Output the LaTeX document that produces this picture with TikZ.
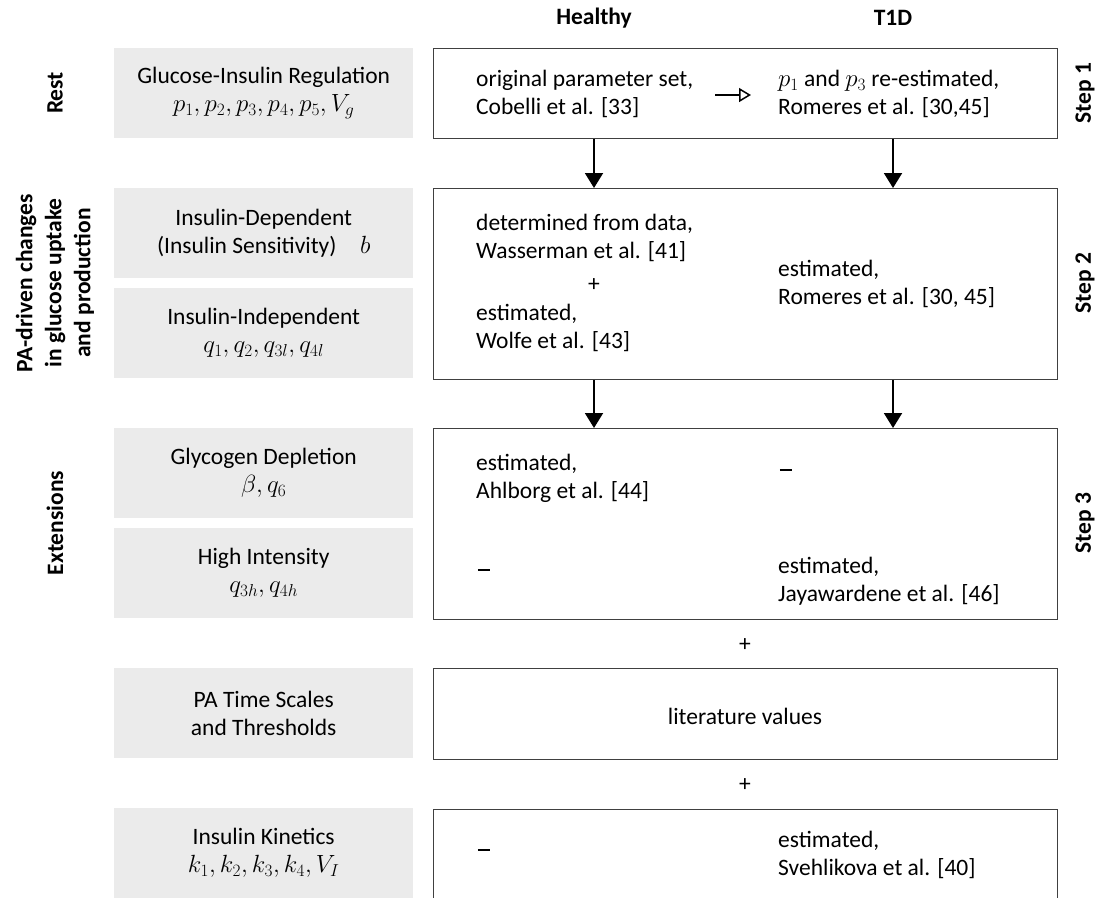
\documentclass[tikz,border=0pt]{standalone}
\usepackage{fontspec}
\setmainfont{Carlito}
\usetikzlibrary{arrows.meta}
\definecolor{cellgray}{RGB}{235,235,235}
\definecolor{framecol}{RGB}{64,64,64}
\newcommand{\dashmark}{\rule[6.5pt]{12.5pt}{1.9pt}}
\begin{document}
\begin{tikzpicture}[x=1pt,y=-1pt,
  every node/.style={inner sep=0pt, font=\fontsize{23.5}{28}\selectfont, text=black},
  cell/.style={fill=cellgray, minimum width=299pt, minimum height=90pt, align=center, anchor=north west},
  stepframe/.style={draw=framecol, line width=1.4pt, minimum width=624pt, anchor=north west},
  txt/.style={anchor=west, align=left},
  sidelbl/.style={font=\bfseries\fontsize{23.5}{29}\selectfont, rotate=90, align=center},
  hdr/.style={font=\bfseries\fontsize{23.5}{28}\selectfont},
  arr/.style={line width=2pt, -{Triangle[length=15pt,width=18pt]}},
  oarr/.style={line width=1.5pt, -{Triangle[open,length=12pt,width=14pt]}}
]
\useasboundingbox (0,0) rectangle (1107,897);
\clip (0,0) rectangle (1107,897);

% column coordinates
\coordinate (hcol) at (594,0);
\coordinate (tcol) at (893,0);

% headers
\node[hdr] (hh) at (594,18) {Healthy};
\node[hdr] (ht) at (893,18) {T1D};

% side labels
\node[sidelbl] (lrest) at (55,93) {Rest};
\node[sidelbl] (lpa) at (55,283) {PA-driven changes\\in glucose uptake\\and production};
\node[sidelbl] (lext) at (55,523) {Extensions};

% step labels
\node[sidelbl] (st1) at (1085,93) {Step 1};
\node[sidelbl] (st2) at (1085,283) {Step 2};
\node[sidelbl] (st3) at (1085,523) {Step 3};

% gray cells
\node[cell] (c1) at (114,48) {Glucose-Insulin Regulation\\$p_1, p_2, p_3, p_4, p_5, V_g$};
\node[cell] (c2) at (114,188) {Insulin-Dependent\\(Insulin Sensitivity)\quad $b$};
\node[cell] (c3) at (114,288) {Insulin-Independent\\$q_1, q_2, q_{3l}, q_{4l}$};
\node[cell] (c4) at (114,428) {Glycogen Depletion\\$\beta, q_6$};
\node[cell] (c5) at (114,528) {High Intensity\\$q_{3h}, q_{4h}$};
\node[cell] (c6) at (114,668) {PA Time Scales\\and Thresholds};
\node[cell] (c7) at (114,808) {Insulin Kinetics\\$k_1, k_2, k_3, k_4, V_I$};

% frames
\node[stepframe, minimum height=90pt] (s1) at (433,48) {};
\node[stepframe, minimum height=191pt] (s2) at (433,188) {};
\node[stepframe, minimum height=191pt] (s3) at (433,428) {};
\node[stepframe, minimum height=91pt] (s4) at (433,668) {};
\node[stepframe, minimum height=130pt] (s5) at (433,809) {};

% step 1 text
\node[txt] (t1a) at (476,94) {original parameter set,\\Cobelli et al. [33]};
\node[txt] (t1b) at (778,94) {$p_1$ and $p_3$ re-estimated,\\Romeres et al. [30,45]};
\coordinate (oa1) at (715,95);
\coordinate (oa2) at (751,95);
\draw[oarr] (oa1) -- (oa2);

% step 2 text
\node[txt] (t2a) at (476,237.5) {determined from data,\\Wasserman et al. [41]};
\node (p2) at (594,285) {+};
\node[txt] (t2b) at (476,327.5) {estimated,\\Wolfe et al. [43]};
\node[txt] (t2c) at (778,284) {estimated,\\Romeres et al. [30, 45]};

% step 3 text
\node[txt] (t3a) at (476,478.5) {estimated,\\Ahlborg et al. [44]};
\node[txt, anchor=center] (t3b) at (786,473) {\dashmark};
\node[txt, anchor=center] (t3c) at (484,573) {\dashmark};
\node[txt] (t3d) at (778,581) {estimated,\\Jayawardene et al. [46]};

% plus signs and lower boxes
\node (p3) at (745,645) {+};
\node (lit) at (745,716) {literature values};
\node (p4) at (745,785) {+};
\node[txt, anchor=center] (t5a) at (484,853) {\dashmark};
\node[txt] (t5b) at (778,855) {estimated,\\Svehlikova et al. [40]};

% arrows
\draw[arr] (s1.south -| hcol) -- (s2.north -| hcol);
\draw[arr] (s1.south -| tcol) -- (s2.north -| tcol);
\draw[arr] (s2.south -| hcol) -- (s3.north -| hcol);
\draw[arr] (s2.south -| tcol) -- (s3.north -| tcol);
\end{tikzpicture}
\end{document}
